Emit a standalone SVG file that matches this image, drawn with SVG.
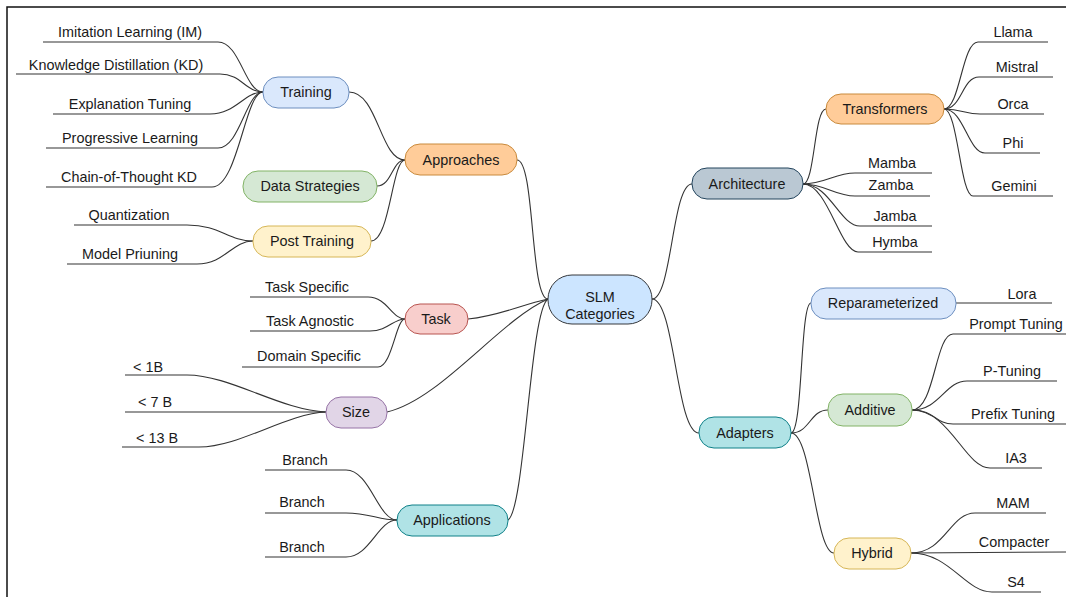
<svg xmlns="http://www.w3.org/2000/svg" width="1066" height="597" viewBox="0 0 1066 597">
<style>
text{font-family:"Liberation Sans",Arial,Helvetica,sans-serif;font-size:14.4px;fill:#1a1a1a;text-anchor:middle}
.c path{fill:none;stroke:#333;stroke-width:1.1}
.n rect{stroke-width:1}
.blue{fill:#dae8fc;stroke:#6c8ebf}
.green{fill:#d5e8d4;stroke:#82b366}
.yellow{fill:#fff2cc;stroke:#d6b656}
.orange{fill:#ffcc99;stroke:#c98a3c}
.red{fill:#f8cecc;stroke:#b85450}
.purple{fill:#e1d5e7;stroke:#9673a6}
.teal{fill:#b0e3e6;stroke:#0e8088}
.slate{fill:#bac8d3;stroke:#23445d}
.center{fill:#cce5ff;stroke:#36393d}
</style>
<rect width="1066" height="597" fill="#fff"/>
<path d="M7 597 V7 H1066" fill="none" stroke="#111" stroke-width="1.5"/>
<g id="connectors" class="c">
<path d="M43 42 H218 C240 42 245 92 263 92"/>
<path d="M16 74 H220 C241 74 246 92 263 92"/>
<path d="M53 114 H210 C236 114 244 92 263 92"/>
<path d="M46 148 H218 C240 148 246 92 263 92"/>
<path d="M46 187 H212 C238 187 245 92 263 92"/>
<path d="M74 225 H187 C220 225 228 241 253 241"/>
<path d="M67 264 H197 C225 264 232 241 253 241"/>
<path d="M250 297 H368 C387 297 392 319 405 319"/>
<path d="M250 331 H370 C388 331 393 319 405 319"/>
<path d="M242 367 H378 C392 367 396 319 405 319"/>
<path d="M125 375 H187 C230 375 280 410 326 412"/>
<path d="M125 412 H326"/>
<path d="M122 447 H199 C240 447 285 414 326 412"/>
<path d="M265 470 H346 C370 470 378 520 397 520"/>
<path d="M265 513 H346 C370 513 378 520 397 520"/>
<path d="M265 557 H346 C370 557 378 520 397 520"/>
<path d="M349 92 C378 92 380 160 405 160"/>
<path d="M377 186 C392 186 392 160 405 160"/>
<path d="M371 241 C390 241 392 160 405 160"/>
<path d="M517 160 C535 160 530 299 548 299"/>
<path d="M468 319 C500 316 520 305 548 299"/>
<path d="M387 412 C440 400 500 320 548 299"/>
<path d="M508 520 C525 510 530 310 548 299"/>
<path d="M652 299 C672 299 672 184 692 184"/>
<path d="M652 299 C675 299 676 433 699 433"/>
<path d="M803 184 C815 184 814 109 826 109"/>
<path d="M803 184 C825 184 835 173 855 173 H932"/>
<path d="M803 184 C825 184 835 196 855 196 H930"/>
<path d="M803 184 C830 184 840 226 860 226 H932"/>
<path d="M803 184 C828 184 840 252 858 252 H932"/>
<path d="M944 109 C960 109 962 42 978 42 H1048"/>
<path d="M944 109 C962 109 962 77 979 77 H1053"/>
<path d="M944 109 C962 109 965 114 980 114 H1044"/>
<path d="M944 109 C964 109 968 153 985 153 H1040"/>
<path d="M944 109 C958 109 960 196 973 196 H1053"/>
<path d="M791 433 C803 433 800 303 811 303"/>
<path d="M791 433 C810 433 810 410 828 410"/>
<path d="M791 433 C812 433 815 553 834 553"/>
<path d="M956 303 H1052"/>
<path d="M912 410 C935 410 935 334 953 334 H1066"/>
<path d="M912 410 C940 410 945 381 967 381 H1057"/>
<path d="M912 410 C935 410 935 424 953 424 H1066"/>
<path d="M912 410 C950 410 965 468 990 468 H1042"/>
<path d="M911 553 C945 553 950 513 975 513 H1046"/>
<path d="M911 553 L1066 552"/>
<path d="M911 553 C950 553 965 592 992 592 H1041"/>
</g>
<g id="slm" class="n"><rect class="center" x="548" y="275" width="104" height="49" rx="24"/><text x="600" y="302">SLM</text><text x="600" y="319">Categories</text></g>
<g id="approaches" class="n"><rect class="orange" x="405" y="144" width="112" height="31" rx="15"/><text x="461" y="165">Approaches</text></g>
<g id="training" class="n"><rect class="blue" x="263" y="77" width="86" height="31" rx="15"/><text x="306" y="97">Training</text></g>
<g id="datastrategies" class="n"><rect class="green" x="243" y="171" width="134" height="31" rx="15"/><text x="310" y="191">Data Strategies</text></g>
<g id="posttraining" class="n"><rect class="yellow" x="253" y="226" width="118" height="31" rx="15"/><text x="312" y="246">Post Training</text></g>
<g id="task" class="n"><rect class="red" x="405" y="304" width="63" height="30" rx="15"/><text x="436" y="324">Task</text></g>
<g id="size" class="n"><rect class="purple" x="326" y="397" width="61" height="31" rx="15"/><text x="356" y="417">Size</text></g>
<g id="applications" class="n"><rect class="teal" x="397" y="505" width="111" height="31" rx="15"/><text x="452" y="525">Applications</text></g>
<g id="architecture" class="n"><rect class="slate" x="692" y="168" width="111" height="31" rx="15"/><text x="747" y="189">Architecture</text></g>
<g id="transformers" class="n"><rect class="orange" x="826" y="94" width="118" height="30" rx="15"/><text x="885" y="114">Transformers</text></g>
<g id="adapters" class="n"><rect class="teal" x="699" y="417" width="92" height="31" rx="15"/><text x="745" y="438">Adapters</text></g>
<g id="reparameterized" class="n"><rect class="blue" x="811" y="288" width="145" height="31" rx="15"/><text x="883" y="308">Reparameterized</text></g>
<g id="additive" class="n"><rect class="green" x="828" y="394" width="84" height="32" rx="15"/><text x="870" y="415">Additive</text></g>
<g id="hybrid" class="n"><rect class="yellow" x="834" y="538" width="77" height="31" rx="15"/><text x="872" y="558">Hybrid</text></g>
<g id="leaves">
<text x="130" y="37">Imitation Learning (IM)</text>
<text x="116" y="70">Knowledge Distillation (KD)</text>
<text x="130" y="109">Explanation Tuning</text>
<text x="130" y="143">Progressive Learning</text>
<text x="129" y="182">Chain-of-Thought KD</text>
<text x="129" y="220">Quantization</text>
<text x="130" y="259">Model Priuning</text>
<text x="307" y="292">Task Specific</text>
<text x="310" y="326">Task Agnostic</text>
<text x="309" y="361">Domain Specific</text>
<text x="148" y="372">&lt; 1B</text>
<text x="155" y="407">&lt; 7 B</text>
<text x="157" y="443">&lt; 13 B</text>
<text x="305" y="465">Branch</text>
<text x="302" y="507">Branch</text>
<text x="302" y="552">Branch</text>
<text x="1013" y="37">Llama</text>
<text x="1017" y="72">Mistral</text>
<text x="1013" y="109">Orca</text>
<text x="1013" y="148">Phi</text>
<text x="1014" y="191">Gemini</text>
<text x="892" y="168">Mamba</text>
<text x="891" y="190">Zamba</text>
<text x="895" y="221">Jamba</text>
<text x="895" y="247">Hymba</text>
<text x="1022" y="299">Lora</text>
<text x="1016" y="329">Prompt Tuning</text>
<text x="1012" y="376">P-Tuning</text>
<text x="1013" y="419">Prefix Tuning</text>
<text x="1016" y="463">IA3</text>
<text x="1013" y="508">MAM</text>
<text x="1014" y="547">Compacter</text>
<text x="1016" y="587">S4</text>
</g>
</svg>
